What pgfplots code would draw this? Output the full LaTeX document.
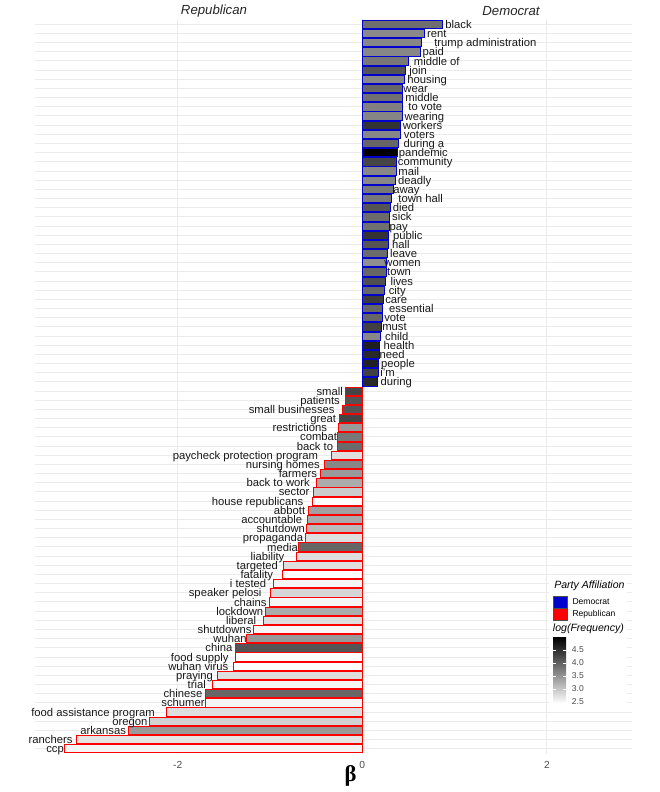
\documentclass[border=0pt]{standalone}
\usepackage{pgfplots}
\pgfplotsset{compat=1.18}
\usepackage{fontspec}
\setmainfont{Liberation Sans}
\newfontfamily\betafont{Liberation Serif}
\definecolor{dblue}{RGB}{0,0,205}
\definecolor{rred}{RGB}{255,0,0}
\newcommand{\lbl}{\fontsize{8.45}{9}\selectfont}
\pgfplotsset{
  dbarst/.style={xbar, bar width=0.9, bar shift=0pt, draw=dblue, line width=0.6pt,
     point meta=explicit symbolic, nodes near coords,
     nodes near coords style={anchor=base, yshift=-3.03pt, font=\lbl, text=black!90, inner sep=0pt}},
  rbarst/.style={xbar, bar width=0.9, bar shift=0pt, draw=rred, line width=0.6pt,
     point meta=explicit symbolic, nodes near coords,
     nodes near coords style={anchor=base, yshift=-3.03pt, font=\lbl, text=black!90, inner sep=0pt}},
}
\newcommand{\dbar}[5]{\addplot[dbarst, fill=black!#3, nodes near coords style={xshift=#5*2.4pt}] coordinates {(#1,#2) [#4]};}
\newcommand{\rbar}[5]{\addplot[rbarst, fill=black!#3, nodes near coords style={xshift=-#5*2.4pt}] coordinates {(#1,#2) [#4]};}
\begin{document}
\begin{tikzpicture}
\useasboundingbox (0,0) rectangle (495pt,594pt);
\begin{axis}[
  at={(26.25pt,28.35pt)}, anchor=south west,
  scale only axis, width=447.5pt, height=551.55pt,
  xmin=-3.546, xmax=2.919, ymin=0.4, ymax=80.6,
  axis line style={draw=none},
  major tick length=0pt,
  xtick={-2,0,2}, xticklabels={-2,0,2},
  ytick={1,...,80}, yticklabels={},
  xmajorgrids, ymajorgrids,
  major grid style={line width=0.75pt, color=black!8},
  xticklabel style={anchor=center, yshift=-8.1pt, font=\fontsize{7.7}{8}\selectfont, text=black!70},
]
% Democrat
\dbar{0.87}{80}{57}{black}{5}
\dbar{0.67}{79}{46}{rent}{4}
\dbar{0.64}{78}{47}{trump administration}{20}
\dbar{0.63}{77}{47}{paid}{4}
\dbar{0.495}{76}{53}{middle of}{9}
\dbar{0.466}{75}{67}{join}{4}
\dbar{0.46}{74}{47}{housing}{7}
\dbar{0.44}{73}{60}{wear}{4}
\dbar{0.44}{72}{56}{middle}{6}
\dbar{0.44}{71}{50}{to vote}{7}
\dbar{0.43}{70}{48}{wearing}{7}
\dbar{0.41}{69}{80}{workers}{7}
\dbar{0.41}{68}{47}{voters}{6}
\dbar{0.39}{67}{60}{during a}{8}
\dbar{0.385}{66}{100}{pandemic}{8}
\dbar{0.37}{65}{73}{community}{9}
\dbar{0.365}{64}{47}{mail}{4}
\dbar{0.36}{63}{47}{deadly}{6}
\dbar{0.34}{62}{53}{away}{4}
\dbar{0.32}{61}{53}{town hall}{9}
\dbar{0.307}{60}{67}{died}{4}
\dbar{0.29}{59}{58}{sick}{4}
\dbar{0.29}{58}{56}{pay}{3}
\dbar{0.285}{57}{80}{public}{6}
\dbar{0.28}{56}{67}{hall}{4}
\dbar{0.274}{55}{58}{leave}{5}
\dbar{0.263}{54}{44}{women}{5}
\dbar{0.26}{53}{60}{town}{4}
\dbar{0.255}{52}{69}{lives}{5}
\dbar{0.24}{51}{60}{city}{4}
\dbar{0.23}{50}{77}{care}{4}
\dbar{0.22}{49}{60}{essential}{9}
\dbar{0.215}{48}{60}{vote}{4}
\dbar{0.21}{47}{75}{must}{4}
\dbar{0.20}{46}{47}{child}{5}
\dbar{0.19}{45}{88}{health}{6}
\dbar{0.185}{44}{84}{need}{4}
\dbar{0.18}{43}{87}{people}{6}
\dbar{0.17}{42}{75}{i'm}{3}
\dbar{0.16}{41}{84}{during}{6}
% Republican
\rbar{-0.18}{40}{73}{small}{5}
\rbar{-0.18}{39}{67}{patients}{8}
\rbar{-0.21}{38}{67}{small businesses}{16}
\rbar{-0.25}{37}{73}{great}{5}
\rbar{-0.26}{36}{40}{restrictions}{12}
\rbar{-0.265}{35}{53}{combat}{6}
\rbar{-0.27}{34}{58}{back to}{7}
\rbar{-0.33}{33}{13}{paycheck protection program}{27}
\rbar{-0.41}{32}{47}{nursing homes}{13}
\rbar{-0.455}{31}{40}{farmers}{7}
\rbar{-0.495}{30}{33}{back to work}{12}
\rbar{-0.53}{29}{20}{sector}{6}
\rbar{-0.545}{28}{0}{house republicans}{17}
\rbar{-0.58}{27}{37}{abbott}{6}
\rbar{-0.60}{26}{33}{accountable}{11}
\rbar{-0.605}{25}{27}{shutdown}{8}
\rbar{-0.62}{24}{13}{propaganda}{10}
\rbar{-0.69}{23}{60}{media}{5}
\rbar{-0.715}{22}{13}{liability}{9}
\rbar{-0.86}{21}{13}{targeted}{8}
\rbar{-0.865}{20}{0}{fatality}{8}
\rbar{-0.96}{19}{4}{i tested}{8}
\rbar{-1.0}{18}{16}{speaker pelosi}{14}
\rbar{-1.005}{17}{4}{chains}{6}
\rbar{-1.05}{16}{33}{lockdown}{8}
\rbar{-1.07}{15}{13}{liberal}{7}
\rbar{-1.18}{14}{3}{shutdowns}{9}
\rbar{-1.26}{13}{40}{wuhan}{5}
\rbar{-1.38}{12}{67}{china}{5}
\rbar{-1.38}{11}{0}{food supply}{11}
\rbar{-1.395}{10}{0}{wuhan virus}{11}
\rbar{-1.575}{9}{13}{praying}{7}
\rbar{-1.62}{8}{4}{trial}{5}
\rbar{-1.70}{7}{60}{chinese}{7}
\rbar{-1.70}{6}{4}{schumer}{7}
\rbar{-2.12}{5}{13}{food assistance program}{23}
\rbar{-2.31}{4}{18}{oregon}{6}
\rbar{-2.53}{3}{40}{arkansas}{8}
\rbar{-3.10}{2}{10}{ranchers}{8}
\rbar{-3.225}{1}{4}{ccp}{3}
\end{axis}
\begin{scope}[shift={(0pt,594pt)}, x=0.75pt, y=-0.75pt]
 \node[font=\fontsize{9.9}{11}\selectfont\itshape, text=black!85] at (214,11) {Republican};
 \node[font=\fontsize{9.9}{11}\selectfont\itshape, text=black!85] at (511,11) {Democrat};
 \node[font=\betafont\bfseries\fontsize{17}{17}\selectfont] at (350.5,776) {β};
 % legend
 \fill[white] (549,575) rectangle (627,708);
 \node[anchor=west, inner sep=0pt, font=\fontsize{7.9}{9}\selectfont\itshape] at (554,586) {Party Affiliation};
 \filldraw[fill=dblue, draw=black!70, line width=0.4pt] (553.3,596) rectangle (567.3,608);
 \filldraw[fill=rred, draw=black!70, line width=0.4pt] (553.3,608) rectangle (567.3,620);
 \node[anchor=west, inner sep=0pt, font=\fontsize{6.4}{7}\selectfont] at (572.3,602) {Democrat};
 \node[anchor=west, inner sep=0pt, font=\fontsize{6.4}{7}\selectfont] at (572.3,614.5) {Republican};
 \node[anchor=west, inner sep=0pt, font=\fontsize{7.9}{9}\selectfont\itshape] at (552.7,629) {log(Frequency)};
 \shade[top color=black, bottom color=white] (553,637.7) rectangle (566,703.3);
 \foreach \v/\yy in {4.5/650,4.0/663,3.5/676,3.0/689,2.5/702} {
   \draw[white, line width=0.4pt] (553,\yy) -- (555.6,\yy);
   \draw[white, line width=0.4pt] (563.4,\yy) -- (566,\yy);
   \node[anchor=west, inner sep=0pt, font=\fontsize{6.4}{7}\selectfont, text=black!70] at (571.7,\yy) {\v};
 }
\end{scope}
\end{tikzpicture}
\end{document}
